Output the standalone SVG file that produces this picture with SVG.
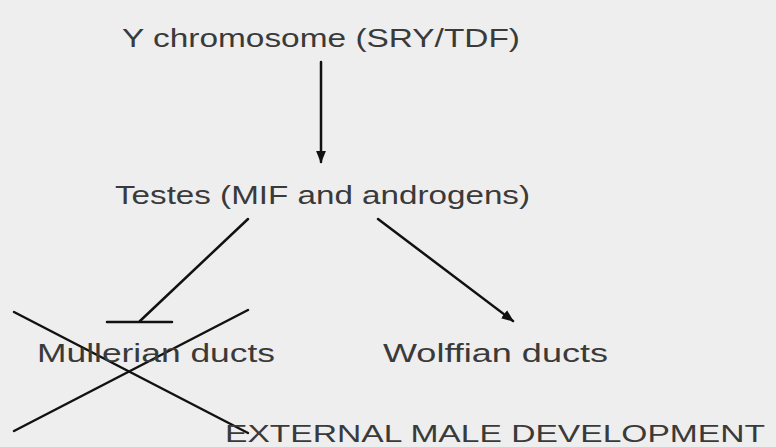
<svg xmlns="http://www.w3.org/2000/svg" width="776" height="447" viewBox="0 0 776 447">
<style>
.lbl{font-family:"Liberation Sans","DejaVu Sans",sans-serif;font-size:25px;fill:#3a3a3a}
.caps{font-family:"Liberation Sans","DejaVu Sans",sans-serif;font-size:24px;fill:#3a3a3a}
.ln{stroke:#111;stroke-width:2.5;fill:none;stroke-linecap:round}
</style>
<defs>
<marker id="ah" viewBox="0 0 10 10" refX="9" refY="5" markerWidth="5" markerHeight="5" orient="auto">
<path d="M0,1 L10,5 L0,9 Z" fill="#111"/>
</marker>
</defs>
<rect width="776" height="447" fill="#eeeeee"/>
<g id="connectors">
<line class="ln" x1="321" y1="62" x2="321" y2="162" marker-end="url(#ah)"/>
<line class="ln" x1="248" y1="219" x2="140" y2="321"/>
<line class="ln" x1="107" y1="322" x2="172" y2="322"/>
<line class="ln" x1="378" y1="219" x2="513" y2="321" marker-end="url(#ah)"/>
<line class="ln" x1="14" y1="312" x2="248" y2="433"/>
<line class="ln" x1="14" y1="431" x2="248" y2="310"/>
</g>
<g id="ychrom"><text class="lbl" x="122" y="47" textLength="398" lengthAdjust="spacingAndGlyphs">Y chromosome (SRY/TDF)</text></g>
<g id="testes"><text class="lbl" x="115" y="204" textLength="415" lengthAdjust="spacingAndGlyphs">Testes (MIF and androgens)</text></g>
<g id="mullerian"><text class="lbl" x="37" y="362" textLength="238" lengthAdjust="spacingAndGlyphs">Mullerian ducts</text></g>
<g id="wolffian"><text class="lbl" x="383" y="362" textLength="225" lengthAdjust="spacingAndGlyphs">Wolffian ducts</text></g>
<g id="external"><text class="caps" x="225" y="442" textLength="540" lengthAdjust="spacingAndGlyphs">EXTERNAL MALE DEVELOPMENT</text></g>
</svg>
